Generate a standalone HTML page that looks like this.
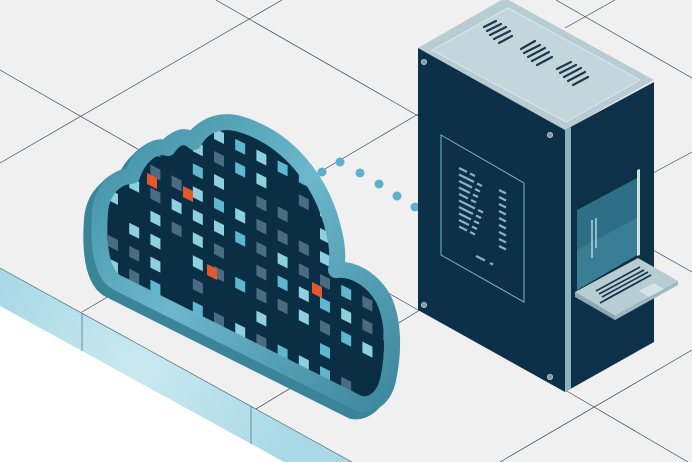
<!DOCTYPE html>
<html><head><meta charset="utf-8"><style>
html,body{margin:0;padding:0;background:#f0f0f0;width:692px;height:462px;overflow:hidden;}
svg{display:block;position:absolute;left:0;top:0}
</style></head><body>
<svg id="s" width="692" height="462" viewBox="0 0 692 462" xmlns="http://www.w3.org/2000/svg">
<defs>
<linearGradient id="band" x1="0" y1="0" x2="1" y2="0.3">
<stop offset="0" stop-color="#a6d8e4"/><stop offset="0.5" stop-color="#c9e9f0"/><stop offset="1" stop-color="#a9d9e5"/>
</linearGradient>
<linearGradient id="rim" x1="0" y1="0" x2="1" y2="1">
<stop offset="0" stop-color="#3f8ea3"/><stop offset="0.45" stop-color="#6cb7cb"/><stop offset="1" stop-color="#3d889d"/>
</linearGradient>
<path id="cl" d="M100,212 C102,190 116,176 132,176 C138,158 152,144 168,148 C176,136 186,134 194,142 C204,122 226,118 246,126 C286,140 322,178 334,232 C338,248 338,260 336,270 C352,268 372,278 384,300 C394,322 394,352 388,380 C384,398 372,406 360,404 L116,282 C100,272 98,240 100,212 Z"/>
<clipPath id="cc"><use href="#cl"/></clipPath>
</defs>
<rect width="692" height="462" fill="#f0f0f0"/>
<g stroke="#3c4b53" stroke-width="0.7" fill="none">
<line x1="0" y1="70" x2="418" y2="310"/>
<line x1="0" y1="163" x2="282" y2="0"/>
<line x1="216" y1="0" x2="420" y2="117"/>
<line x1="82" y1="312" x2="420" y2="113"/>
<line x1="251" y1="412" x2="420" y2="310"/>
<line x1="556" y1="0" x2="692" y2="78"/>
<line x1="565" y1="28" x2="615" y2="0"/>
<line x1="653" y1="173" x2="692" y2="152"/>
<line x1="653" y1="250" x2="692" y2="272"/>
<line x1="565" y1="390" x2="688" y2="462"/>
<line x1="500" y1="462" x2="692" y2="350"/>
</g>
<polygon points="0,268 352,462 284,462 0,306" fill="url(#band)"/>
<polygon points="0,306 284,462 0,462" fill="#ffffff"/>
<g stroke="#4d6a75" stroke-width="0.7">
<line x1="0" y1="268" x2="352" y2="462"/>
<line x1="82" y1="313" x2="82" y2="351"/>
<line x1="251" y1="406" x2="251" y2="444"/>
</g>
<g fill="#5bb1cb">
<circle cx="322" cy="172" r="4.5"/><circle cx="340" cy="162" r="4.5"/><circle cx="360" cy="173" r="4.5"/>
<circle cx="379" cy="184" r="4.5"/><circle cx="397" cy="196" r="4.5"/><circle cx="415" cy="207" r="4.5"/>
</g>
<g fill="#3a8497" stroke="#3a8497" stroke-width="16" stroke-linejoin="round">
<use href="#cl" transform="translate(-8,7)"/>
<use href="#cl" transform="translate(-6,5)"/>
<use href="#cl" transform="translate(-3,2)"/>
</g>
<use href="#cl" fill="#0a2e44"/>
<g id="sq" clip-path="url(#cc)"></g>
<use href="#cl" fill="none" stroke="url(#rim)" stroke-width="16" stroke-linejoin="round"/>
<polygon points="418,48 505,-2 654,80 565,130" fill="#b7ccd3"/>
<polygon points="432,50 508,8 640,80 566,122" fill="#c3d6dc" stroke="#d8e6ea" stroke-width="1"/>
<polygon points="418,48 565,130 565,392 418,310" fill="#0b3047"/>
<polygon points="565,130 654,82 654,342 565,392" fill="#0c3148"/>
<polygon points="565,130 571,127 571,389 565,392" fill="#8db2bf"/>
<g stroke="#1c3a4c" stroke-width="2.2" stroke-linecap="round">
<line x1="484" y1="27" x2="496" y2="21"/><line x1="487" y1="31" x2="501" y2="24"/><line x1="490" y1="35" x2="506" y2="27"/><line x1="494" y1="39" x2="510" y2="31"/><line x1="499" y1="43" x2="512" y2="36"/>
<line x1="521" y1="49" x2="535" y2="41"/><line x1="524" y1="53" x2="540" y2="45"/><line x1="528" y1="57" x2="545" y2="48"/><line x1="532" y1="61" x2="549" y2="52"/><line x1="537" y1="65" x2="552" y2="57"/>
<line x1="557" y1="69" x2="571" y2="62"/><line x1="560" y1="73" x2="576" y2="65"/><line x1="564" y1="77" x2="581" y2="68"/><line x1="568" y1="81" x2="585" y2="72"/><line x1="573" y1="85" x2="588" y2="77"/>
</g>
<g fill="#7f98a3" stroke="#c6d6dc" stroke-width="0.8">
<circle cx="424" cy="62" r="2.6"/><circle cx="550" cy="135" r="2.6"/><circle cx="424" cy="305" r="2.6"/><circle cx="550" cy="377" r="2.6"/>
</g>
<polygon points="441,135 524,183 524,302 441,255" fill="none" stroke="#7fb3c4" stroke-width="1"/>
<g stroke="#86b3c3" stroke-width="2.2" id="txt"></g>
<polygon points="577,210 637,178 637,255 577,290" fill="#2e6e86"/>
<polygon points="577,250 637,218 637,255 577,290" fill="#3a7e95"/>
<polygon points="637,170 640,169 640,255 637,256" fill="#cfe0e5"/>
<g stroke="#a8cdd8" stroke-width="1.6">
<line x1="592" y1="220" x2="592" y2="258"/><line x1="596" y1="218" x2="596" y2="248"/>
</g>
<polygon points="575,292 638,258 678,281 615,316" fill="#b7ccd3"/>
<polygon points="575,292 615,316 615,320 575,297" fill="#8ea9b2"/>
<polygon points="615,316 678,281 678,285 615,320" fill="#9fb8c0"/>
<g stroke="#15344a" stroke-width="1.6">
<line x1="596" y1="291" x2="640" y2="267"/><line x1="599" y1="294" x2="644" y2="270"/><line x1="602" y1="297" x2="648" y2="272"/><line x1="605" y1="300" x2="651" y2="275"/><line x1="600" y1="303" x2="640" y2="281"/>
</g>
<polygon points="639,291 654,283 664,289 649,297" fill="#d6e4e8"/>
</svg>
<script>
(function(){
var ns="http://www.w3.org/2000/svg";
var g=document.getElementById('sq');
var cols=["#8fd0e0","#4b6b82","#5fb7cf","#8fd0e0","#4b6b82","#4b6b82"];
var seed=7;function r(){seed=(seed*9301+49297)%233280;return seed/233280;}
function sq(x,y,c){var p=document.createElementNS(ns,'polygon');
p.setAttribute('points',x+','+y+' '+(x+10)+','+(y+5)+' '+(x+10)+','+(y+16)+' '+x+','+(y+11));
p.setAttribute('fill',c);g.appendChild(p);}
for(var i=0;i<14;i++){for(var j=-6;j<12;j++){
var x=108+i*21.2, y=120+j*23+i*10.8;
var c=cols[Math.floor(r()*cols.length)];
if(r()<0.15)continue;
sq(x,y,c);}}
sq(183,186,"#e5582a");sq(207,264,"#e5582a");sq(312,282,"#e5582a");sq(147,173,"#e5582a");
var t=document.getElementById('txt');
function ln(x1,y1,x2,y2){var l=document.createElementNS(ns,'line');l.setAttribute('x1',x1);l.setAttribute('y1',y1);l.setAttribute('x2',x2);l.setAttribute('y2',y2);t.appendChild(l);}
for(var k=0;k<10;k++){var y=168+k*6.5;var x=459;var L=8+((k*7)%9);ln(x,y,x+L,y+L*0.5);ln(x+L+3,y+(L+3)*0.5,x+L+8,y+(L+8)*0.5);}
for(var k=0;k<9;k++){var y=190+k*7;ln(499,y,506,y+3.5);}
ln(476,256,485,260.5);ln(490,263,493,264.5);
})();
</script>
</body></html>
